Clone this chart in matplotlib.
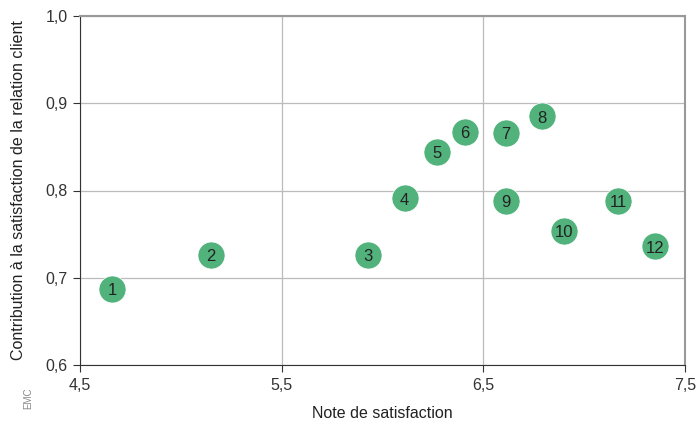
import matplotlib.pyplot as plt

labels = ["1", "2", "3", "4", "5", "6", "7", "8", "9", "10", "11", "12"]
note = [4.66, 5.15, 5.93, 6.11, 6.27, 6.41, 6.61, 6.79, 6.61, 6.90, 7.17, 7.35]
contribution = [0.687, 0.726, 0.726, 0.791, 0.844, 0.867, 0.866, 0.885, 0.788, 0.754, 0.788, 0.736]

xticks = [4.5, 5.5, 6.5, 7.5]
yticks = [0.6, 0.7, 0.8, 0.9, 1.0]

plt.rcParams['font.family'] = ['Liberation Sans', 'DejaVu Sans']

fig = plt.figure(figsize=(6.96, 4.25), dpi=100)
ax = fig.add_axes([80 / 696, 60 / 425, 605 / 696, 349 / 425])

ax.set_xlim(4.5, 7.5)
ax.set_ylim(0.6, 1.0)
ax.set_xticks(xticks)
ax.set_yticks(yticks)
ax.set_xticklabels([str(t).replace(".", ",") for t in xticks], fontsize=11.5, color="#333333")
ax.set_yticklabels([("%.1f" % t).replace(".", ",") for t in yticks], fontsize=11.5, color="#333333")
ax.tick_params(direction="out", length=5, width=0.8, color="#333333", pad=4)
ax.grid(True, color="#bbbbbb", linewidth=0.9)
ax.set_axisbelow(True)

ax.spines["left"].set_color("#333333")
ax.spines["bottom"].set_color("#333333")
ax.spines["top"].set_color("#999999")
ax.spines["right"].set_color("#999999")
ax.spines["top"].set_linewidth(1.5)
ax.spines["right"].set_linewidth(1.5)

ax.scatter(note, contribution, s=380, color="#52b27c", edgecolors="white", linewidths=0.5, zorder=3)
for lab, x, y in zip(labels, note, contribution):
    ax.text(x, y - 0.002, lab, ha="center", va="center", fontsize=12, color="#222222", zorder=4)

ax.set_xlabel("Note de satisfaction", fontsize=11.5, color="#222222", labelpad=10)
ax.set_ylabel("Contribution à la satisfaction de la relation client", fontsize=11.5, color="#222222", labelpad=14)

fig.text(28 / 696, 1 - 398 / 425, "EMC", fontsize=7, color="#888888", ha="center", va="center",
         rotation=90, fontstretch="condensed")

fig.savefig("out.png", dpi=100)
